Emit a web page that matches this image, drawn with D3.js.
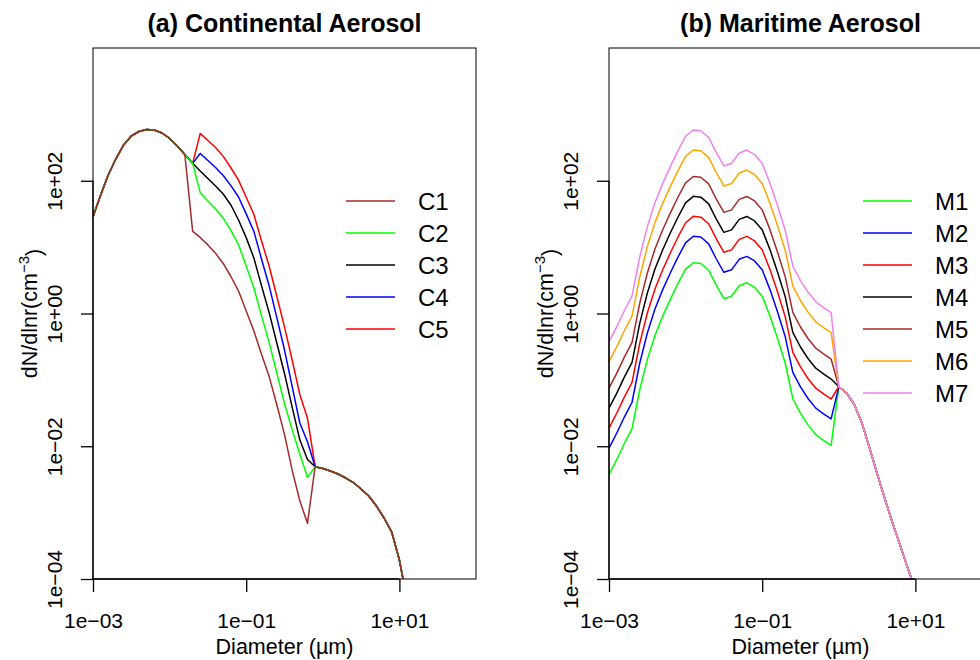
<!DOCTYPE html>
<html>
<head>
<meta charset="utf-8">
<script src="https://cdn.jsdelivr.net/npm/d3@7"></script>
<style>
  body { margin: 0; background: #fff; }
  text { font-family: "Liberation Sans", Arial, Helvetica, sans-serif; fill: #000; }
</style>
</head>
<body>
<div id="chart"></div>
<script>
var svgWidth = 980;
var svgHeight = 660;

// diameters (um), one point per 0.1 decade
var diameters = [0.001, 0.00126, 0.00158, 0.002, 0.00251, 0.00316, 0.00398, 0.00501, 0.00631, 0.00794,
  0.01, 0.0126, 0.0158, 0.02, 0.0251, 0.0316, 0.0398, 0.0501, 0.0631, 0.0794,
  0.1, 0.126, 0.158, 0.2, 0.251, 0.316, 0.398, 0.501, 0.631, 0.794,
  1, 1.26, 1.58, 2, 2.51, 3.16, 3.98, 5.01, 6.31, 7.94, 10, 12.6];

// (a) continental size distributions, dN/dlnr
var c1 = [28.7, 61, 122, 216, 346, 472, 552, 592, 582, 524, 434, 334, 249,
  17.3, 14.0, 10.8, 8.07, 5.67, 3.61, 2.18, 1.09, 0.545, 0.245, 0.111, 0.0421, 0.0151, 0.00436, 0.00151, 0.00069, 0.00492,
  0.00462, 0.00424, 0.00382, 0.00332, 0.00284, 0.00227, 0.00178, 0.00126, 0.00083, 0.00051, 0.000193, 0.000048];
var c2 = [28.7, 61, 122, 216, 346, 472, 552, 592, 582, 524, 434, 334, 249,
  183, 66.1, 49.4, 37.9, 27.3, 17.9, 10.9, 5.18, 2.42, 0.936, 0.361, 0.127, 0.0441, 0.0178, 0.00762, 0.0034, 0.00492,
  0.00462, 0.00424, 0.00382, 0.00332, 0.00284, 0.00227, 0.00178, 0.00126, 0.00083, 0.00051, 0.000193, 0.000048];
var c3 = [28.7, 61, 122, 216, 346, 472, 552, 592, 582, 524, 434, 334, 249,
  183, 140, 108, 83.4, 63.1, 43.1, 25.6, 13.9, 6.86, 2.65, 1.02, 0.360, 0.125, 0.0388, 0.0125, 0.0063, 0.00492,
  0.00462, 0.00424, 0.00382, 0.00332, 0.00284, 0.00227, 0.00178, 0.00126, 0.00083, 0.00051, 0.000193, 0.000048];
var c4 = [28.7, 61, 122, 216, 346, 472, 552, 592, 582, 524, 434, 334, 249,
  183, 258, 202, 158, 120, 84.5, 56.9, 31.7, 17.3, 6.69, 2.58, 0.865, 0.284, 0.080, 0.0224, 0.0117, 0.00492,
  0.00462, 0.00424, 0.00382, 0.00332, 0.00284, 0.00227, 0.00178, 0.00126, 0.00083, 0.00051, 0.000193, 0.000048];
var c5 = [28.7, 61, 122, 216, 346, 472, 552, 592, 582, 524, 434, 334, 249,
  183, 517, 404, 317, 233, 157, 102, 56.5, 31, 12.6, 5.11, 1.82, 0.630, 0.199, 0.0602, 0.0265, 0.00492,
  0.00462, 0.00424, 0.00382, 0.00332, 0.00284, 0.00227, 0.00178, 0.00126, 0.00083, 0.00051, 0.000193, 0.000048];

// (b) maritime size distributions, dN/dlnr
var m1 = [0.00376, 0.00627, 0.0109, 0.0184, 0.0698, 0.202, 0.467, 0.906, 1.63, 2.82, 4.65, 5.82, 5.66, 4.49, 2.67,
  1.67, 1.82, 2.62, 2.90, 2.48, 1.82, 0.925, 0.427, 0.178, 0.052, 0.0313, 0.0208, 0.015, 0.0123, 0.0103,
  0.0789, 0.0634, 0.0433, 0.0225, 0.00958, 0.00388, 0.00163, 0.00071, 0.000325, 0.000147, 0.0000683];
var m2 = [0.0094, 0.0157, 0.0273, 0.046, 0.175, 0.505, 1.17, 2.27, 4.08, 7.05, 11.6, 14.6, 14.2, 11.2, 6.68,
  4.18, 4.55, 6.55, 7.25, 6.2, 4.55, 2.31, 1.07, 0.445, 0.13, 0.0783, 0.052, 0.0375, 0.0308, 0.0258,
  0.0789, 0.0634, 0.0433, 0.0225, 0.00958, 0.00388, 0.00163, 0.00071, 0.000325, 0.000147, 0.0000683];
var m3 = [0.0188, 0.0314, 0.0545, 0.092, 0.349, 1.01, 2.34, 4.53, 8.15, 14.1, 23.3, 29.1, 28.3, 22.5, 13.4,
  8.35, 9.1, 13.1, 14.5, 12.4, 9.1, 4.63, 2.14, 0.89, 0.26, 0.157, 0.104, 0.075, 0.0615, 0.0515,
  0.0789, 0.0634, 0.0433, 0.0225, 0.00958, 0.00388, 0.00163, 0.00071, 0.000325, 0.000147, 0.0000683];
var m4 = [0.0376, 0.0627, 0.109, 0.184, 0.698, 2.02, 4.67, 9.06, 16.3, 28.2, 46.5, 58.2, 56.6, 44.9, 26.7,
  16.7, 18.2, 26.2, 29, 24.8, 18.2, 9.25, 4.27, 1.78, 0.52, 0.313, 0.208, 0.15, 0.123, 0.103,
  0.0789, 0.0634, 0.0433, 0.0225, 0.00958, 0.00388, 0.00163, 0.00071, 0.000325, 0.000147, 0.0000683];
var m5 = [0.0752, 0.125, 0.218, 0.368, 1.40, 4.04, 9.34, 18.1, 32.6, 56.4, 93, 116, 113, 89.8, 53.4,
  33.4, 36.4, 52.4, 58, 49.6, 36.4, 18.5, 8.54, 3.56, 1.04, 0.626, 0.416, 0.30, 0.246, 0.206,
  0.0789, 0.0634, 0.0433, 0.0225, 0.00958, 0.00388, 0.00163, 0.00071, 0.000325, 0.000147, 0.0000683];
var m6 = [0.188, 0.314, 0.545, 0.92, 3.49, 10.1, 23.4, 45.3, 81.5, 141, 233, 291, 283, 225, 134,
  83.5, 91, 131, 145, 124, 91, 46.3, 21.4, 8.9, 2.6, 1.57, 1.04, 0.75, 0.615, 0.515,
  0.0789, 0.0634, 0.0433, 0.0225, 0.00958, 0.00388, 0.00163, 0.00071, 0.000325, 0.000147, 0.0000683];
var m7 = [0.376, 0.627, 1.09, 1.84, 6.98, 20.2, 46.7, 90.6, 163, 282, 465, 582, 566, 449, 267,
  167, 182, 262, 290, 248, 182, 92.5, 42.7, 17.8, 5.2, 3.13, 2.08, 1.50, 1.23, 1.03,
  0.0789, 0.0634, 0.0433, 0.0225, 0.00958, 0.00388, 0.00163, 0.00071, 0.000325, 0.000147, 0.0000683];

var continentalNames = ["C1", "C2", "C3", "C4", "C5"];
var continentalColors = ["#A52A2A", "#00FF00", "#000000", "#0000FF", "#FF0000"];
var maritimeNames = ["M1", "M2", "M3", "M4", "M5", "M6", "M7"];
var maritimeColors = ["#00FF00", "#0000FF", "#FF0000", "#000000", "#A52A2A", "#FFA500", "#EE82EE"];

var xTicks = [1e-3, 1e-1, 1e1];
var yTicks = [1e-4, 1e-2, 1, 1e2];

var plotTop = 48;
var plotHeight = 531;
var plotWidth = 383;

var svg = d3.select("#chart")
  .append("svg")
  .attr("width", svgWidth)
  .attr("height", svgHeight);

function fmtPow(v) {
  var e = Math.round(Math.log10(v));
  var s = (e < 0 ? "\u2212" : "+") + (Math.abs(e) < 10 ? "0" : "") + Math.abs(e);
  return "1e" + s;
}

// draws one panel; drawOrder says which series ends up on top
function drawPanel(id, left, title, series, names, colors, drawOrder, legendX, legendY) {

  var xScale = d3.scaleLog().domain([1e-3, 1e2]).range([0, plotWidth]);
  var yScale = d3.scaleLog().domain([1e-4, 1e4]).range([plotHeight, 0]);

  var g = svg.append("g")
    .attr("transform", `translate(${left}, ${plotTop})`);

  g.append("clipPath")
    .attr("id", "clip-" + id)
    .append("rect")
    .attr("width", plotWidth)
    .attr("height", plotHeight);

  var line = d3.line()
    .x((d, i) => xScale(diameters[i]))
    .y(d => yScale(d));

  var lines = g.append("g").attr("clip-path", `url(#clip-${id})`);
  drawOrder.forEach(function(k) {
    lines.append("path")
      .attr("d", line(series[k]))
      .attr("fill", "none")
      .attr("stroke", colors[k])
      .attr("stroke-width", 1.5)
      .attr("stroke-linejoin", "round");
  });

  // box
  g.append("rect")
    .attr("width", plotWidth)
    .attr("height", plotHeight)
    .attr("fill", "none")
    .attr("stroke", "#000")
    .attr("stroke-width", 1);

  // x axis
  var xAxis = g.append("g")
    .attr("transform", `translate(0, ${plotHeight})`)
    .call(d3.axisBottom(xScale).tickValues(xTicks).tickSize(13).tickSizeOuter(0).tickPadding(21).tickFormat(fmtPow));
  xAxis.select(".domain").remove();
  xAxis.selectAll("line").attr("stroke-width", 1.3);
  xAxis.selectAll("text")
    .style("font-size", "21px")
    .attr("font-family", null);

  g.append("line")
    .attr("x1", 0).attr("x2", xScale(1e1))
    .attr("y1", plotHeight).attr("y2", plotHeight)
    .attr("stroke", "#000").attr("stroke-width", 1.3);

  // y axis, labels rotated along the axis
  var yAxis = g.append("g")
    .call(d3.axisLeft(yScale).tickValues(yTicks).tickSize(12).tickSizeOuter(0).tickFormat(fmtPow));
  yAxis.select(".domain").remove();
  yAxis.selectAll("line").attr("stroke-width", 1.3);
  yAxis.selectAll("text")
    .attr("x", null)
    .attr("dy", null)
    .attr("text-anchor", "middle")
    .attr("transform", "translate(-31, 0) rotate(-90)")
    .style("font-size", "21px")
    .attr("font-family", null);

  g.append("line")
    .attr("x1", 0).attr("x2", 0)
    .attr("y1", yScale(1e-4)).attr("y2", yScale(1e2))
    .attr("stroke", "#000").attr("stroke-width", 1.3);

  // titles
  g.append("text")
    .attr("x", plotWidth / 2)
    .attr("y", 31.5 - plotTop)
    .attr("text-anchor", "middle")
    .style("font-size", "25px")
    .style("font-weight", "bold")
    .text(title);

  g.append("text")
    .attr("x", plotWidth / 2)
    .attr("y", 654 - plotTop)
    .attr("text-anchor", "middle")
    .style("font-size", "21.5px")
    .text("Diameter (\u00B5m)");

  var yLabel = g.append("text")
    .attr("transform", `translate(-56, ${plotHeight / 2}) rotate(-90)`)
    .attr("text-anchor", "middle")
    .style("font-size", "21.5px");
  yLabel.append("tspan").text("dN/dlnr(cm");
  yLabel.append("tspan").attr("dy", "-0.55em").style("font-size", "15px").text("\u22123");
  yLabel.append("tspan").attr("dy", "0.55em").text(")");

  // legend
  var legend = svg.append("g");
  names.forEach(function(name, i) {
    var ly = legendY + i * 32;
    legend.append("line")
      .attr("x1", legendX).attr("x2", legendX + 49)
      .attr("y1", ly).attr("y2", ly)
      .attr("stroke", colors[i])
      .attr("stroke-width", 1.5);
    legend.append("text")
      .attr("x", legendX + 72)
      .attr("y", ly)
      .attr("dy", "0.36em")
      .style("font-size", "24px")
      .text(name);
  });
}

drawPanel("a", 93, "(a) Continental Aerosol", [c1, c2, c3, c4, c5],
  continentalNames, continentalColors, [4, 3, 2, 1, 0], 346, 201);

drawPanel("b", 609, "(b) Maritime Aerosol", [m1, m2, m3, m4, m5, m6, m7],
  maritimeNames, maritimeColors, [0, 1, 2, 3, 4, 5, 6], 863, 201);
</script>
</body>
</html>
